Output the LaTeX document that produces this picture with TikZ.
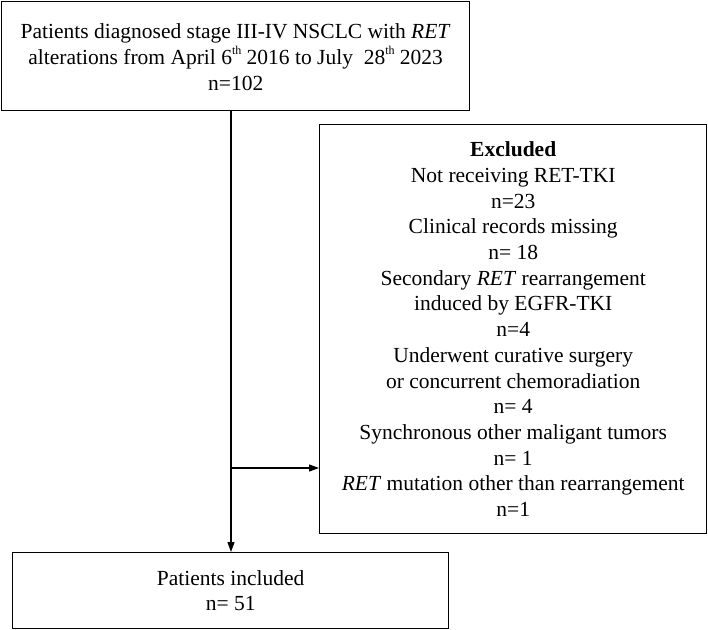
\documentclass[tikz,border=0pt]{standalone}
\usepackage{fontspec}
\setmainfont{Liberation Serif}
\usetikzlibrary{arrows.meta}
\newcommand{\supth}{\raisebox{0.45em}{\fontsize{12}{12}\selectfont th}}
\begin{document}
\begin{tikzpicture}[x=1pt,y=1pt,
  box/.style={draw, line width=1.4pt, inner sep=0pt, anchor=north west},
  txt/.style={align=center, font=\fontsize{21.5}{25.7}\selectfont, inner sep=0pt},
  arr/.style={line width=1.2pt, -{Triangle[length=10pt,width=7pt]}}]
\useasboundingbox (0,0) rectangle (708,-629);
\node[box, minimum width=468pt, minimum height=109pt] (top) at (1,-1) {};
\node[txt] (toptext) at ([yshift=-1pt]top.center) {Patients diagnosed stage III-IV NSCLC with \textit{RET}\\alterations from April 6\supth\ 2016 to July~ 28\supth\ 2023\\n=102};
\node[box, minimum width=387pt, minimum height=409pt] (exc) at (319,-124) {};
\node[txt] (exctext) at ([yshift=0pt]exc.center) {\textbf{Excluded}\\Not receiving RET-TKI\\n=23\\Clinical records missing\\n= 18\\Secondary \textit{RET} rearrangement\\induced by EGFR-TKI\\n=4\\Underwent curative surgery\\or concurrent chemoradiation\\n= 4\\Synchronous other maligant tumors\\n= 1\\\textit{RET} mutation other than rearrangement\\n=1};
\node[box, minimum width=436pt, minimum height=76pt] (inc) at (12,-552) {};
\node[txt] (inctext) at (inc.center) {Patients included\\n= 51};
\coordinate (split) at (231,-468);
\draw[arr] (top.south -| split) -- (inc.north -| split);
\draw[arr] (split) -- (exc.west |- split);
\end{tikzpicture}
\end{document}
